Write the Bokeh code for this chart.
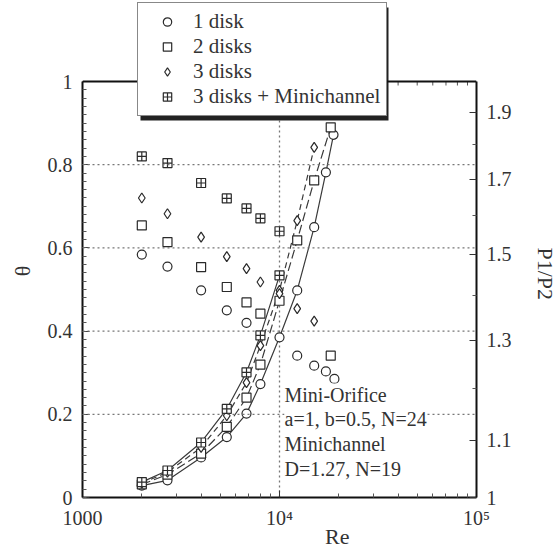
import math
from bokeh.plotting import figure
from bokeh.models import (Range1d, LogScale, LogAxis, FixedTicker, CustomJSTickFormatter,
                          Span, Label, Legend, LegendItem)
from bokeh.embed import file_html
from bokeh.resources import INLINE

SERIF = "Liberation Serif"
INK = "#2a2a2a"
TXT = "#333333"

# ---- data -------------------------------------------------------------
# flow coefficient theta (left axis) vs Reynolds number
re_theta_1 = [2000, 2700, 4000, 5400, 6800, 12300, 15000, 17200, 19000]
theta_1 = [0.584, 0.555, 0.498, 0.450, 0.420, 0.341, 0.317, 0.303, 0.285]

re_theta_2 = [2000, 2700, 4000, 5400, 6800, 8000, 18200]
theta_2 = [0.654, 0.614, 0.554, 0.506, 0.469, 0.442, 0.341]

re_theta_3 = [2000, 2700, 4000, 5400, 6800, 8000, 10000, 12300, 15000]
theta_3 = [0.720, 0.682, 0.626, 0.579, 0.550, 0.518, 0.490, 0.454, 0.424]

re_theta_m = [2000, 2700, 4000, 5400, 6800, 8000, 10000]
theta_m = [0.820, 0.804, 0.756, 0.719, 0.695, 0.671, 0.640]

# pressure ratio P1/P2 (right axis) vs Reynolds number
re_p_1 = [2000, 2700, 4000, 5400, 6800, 8000, 10000, 12300, 15000, 17200, 18800]
p_1 = [1.020, 1.029, 1.069, 1.106, 1.150, 1.208, 1.306, 1.412, 1.569, 1.719, 1.830]

re_p_2 = [2000, 2700, 4000, 5400, 6800, 8000, 10000, 12300, 15000, 18200]
p_2 = [1.022, 1.039, 1.076, 1.125, 1.181, 1.248, 1.388, 1.535, 1.696, 1.853]

re_p_3 = [2000, 2700, 4000, 5400, 6800, 8000, 10000, 12300, 15000]
p_3 = [1.024, 1.043, 1.087, 1.146, 1.211, 1.288, 1.412, 1.586, 1.792]

re_p_m = [2000, 2700, 4000, 5400, 6800, 8000, 10000]
p_m = [1.026, 1.046, 1.096, 1.159, 1.232, 1.310, 1.448]

labels = ["1 disk", "2 disks", "3 disks", "3 disks + Minichannel"]

# ---- axis ticks -------------------------------------------------------
x_ticks = [1000, 10000, 100000]
x_minor = [k * d for d in (1000, 10000) for k in range(2, 10)]
x_tick_labels = ["1000", "10\u2074", "10\u2075"]
theta_ticks = [0, 0.2, 0.4, 0.6, 0.8, 1.0]
theta_minor = [round(0.02 * i, 2) for i in range(51)]
p_ticks = [1.0, 1.1, 1.3, 1.5, 1.7, 1.9]
p_minor = [1.2, 1.4, 1.6, 1.8]
grid_theta = [0.2, 0.4, 0.6, 0.8]
grid_re = [10000]

THETA_MAX, P_MIN, P_MAX = 1.0, 1.0, 2.0

# ---- figure -----------------------------------------------------------
# The frame reaches the top of the canvas so the legend can sit above the
# plotting box; the box itself ends at theta = 1 (P1/P2 = 2).
FL, BOX_TOP, BOX_H, FW = 82, 81, 416, 394
FH = BOX_TOP + BOX_H
top_theta = THETA_MAX * FH / BOX_H
top_p = P_MIN * (P_MAX / P_MIN) ** (FH / BOX_H)

p = figure(frame_width=FW, frame_height=FH,
           x_axis_type="log", x_range=Range1d(1000, 100000),
           y_range=Range1d(0, top_theta),
           min_border_left=FL, min_border_right=558 - FL - FW,
           min_border_top=0, min_border_bottom=549 - FH,
           output_backend="svg", toolbar_location=None,
           background_fill_color="white", border_fill_color="white",
           outline_line_color=None)
p.extra_y_ranges = {"p": Range1d(P_MIN, top_p)}
p.extra_y_scales = {"p": LogScale()}
p.grid.visible = False

x_fmt = CustomJSTickFormatter(args=dict(vals=x_ticks, labs=x_tick_labels), code="""
    for (let i = 0; i < vals.length; i++) { if (Math.abs(tick - vals[i]) / vals[i] < 1e-6) return labs[i]; }
    return '';
""")
theta_fmt = CustomJSTickFormatter(code="""
    if (Math.abs(tick) < 1e-9) return '0';
    if (Math.abs(tick - 1) < 1e-9) return '1';
    return tick.toFixed(1);
""")
p_fmt = CustomJSTickFormatter(code="return (tick < 1.05) ? '1' : tick.toFixed(1);")

MAJ, MIN = 7, 4


def style(ax):
    ax.major_tick_in = MAJ
    ax.major_tick_out = 0
    ax.minor_tick_in = MIN
    ax.minor_tick_out = 0
    ax.axis_line_width = 2
    ax.axis_line_color = "#111111"
    ax.major_tick_line_color = "#333333"
    ax.minor_tick_line_color = "#555555"
    ax.major_label_text_font = SERIF
    ax.major_label_text_font_size = "20px"
    ax.major_label_text_color = TXT
    ax.major_label_standoff = 10
    ax.axis_label_text_font = SERIF
    ax.axis_label_text_font_style = "normal"
    ax.axis_label_text_color = TXT


NB = "\u00a0"

xa = p.xaxis[0]
xa.ticker = FixedTicker(ticks=x_ticks, minor_ticks=x_minor)
xa.formatter = x_fmt
style(xa)
xa.major_label_standoff = 9
xa.axis_label = NB * 21 + "Re"
xa.axis_label_text_font_size = "22px"
xa.axis_label_standoff = -8

ya = p.yaxis[0]
ya.ticker = FixedTicker(ticks=theta_ticks, minor_ticks=theta_minor)
ya.formatter = theta_fmt
ya.bounds = (0, THETA_MAX)
style(ya)
ya.axis_label = "\u03b8" + NB * 8
ya.axis_label_text_font_size = "22px"
ya.axis_label_standoff = 10

right = LogAxis(y_range_name="p", ticker=FixedTicker(ticks=p_ticks, minor_ticks=p_minor),
                formatter=p_fmt, bounds=(P_MIN, P_MAX))
style(right)
right.axis_label = NB * 9 + "P1/P2"
right.axis_label_text_font_size = "22px"
right.axis_label_standoff = 18
p.add_layout(right, "right")


# pixel position on the canvas -> data coordinates of the frame
def data_x(px):
    return 1000 * 10 ** (2 * (px - FL) / FW)


def data_y(py):
    return (FH - py) * top_theta / FH


# upper edge of the plotting box with inward ticks
p.add_layout(Span(location=THETA_MAX, dimension="width", line_color="#111111", line_width=2))
p.segment(x0=x_ticks, x1=x_ticks, y0=THETA_MAX, y1=THETA_MAX - MAJ * top_theta / FH,
          line_color="#333333", line_width=1)
p.segment(x0=x_minor, x1=x_minor, y0=THETA_MAX, y1=THETA_MAX - MIN * top_theta / FH,
          line_color="#555555", line_width=1)

# dotted reference lines
for g in grid_theta:
    p.add_layout(Span(location=g, dimension="width", line_color="#777777",
                      line_dash="2 3", line_width=1.3))
p.segment(x0=grid_re, x1=grid_re, y0=0, y1=THETA_MAX, line_color="#777777",
          line_dash="2 3", line_width=1.3)

# drop shadow behind the legend box (lower and right edges)
p.quad(left=data_x(140), right=data_x(388), top=data_y(7), bottom=data_y(120),
       fill_color="#222222", line_alpha=0)

# ---- curves and markers ----------------------------------------------
series = [
    (re_theta_1, theta_1, re_p_1, p_1, "circle", 9, "solid"),
    (re_theta_2, theta_2, re_p_2, p_2, "square", 9, "9 4"),
    (re_theta_3, theta_3, re_p_3, p_3, "diamond", 10, "6 4"),
    (re_theta_m, theta_m, re_p_m, p_m, "square_cross", 9, "solid"),
]

legend_refs = []
for (rt, th, rp, pp, mk, sz, dash) in series:
    p.line(rp, pp, y_range_name="p", line_color="#3a3a3a", line_width=1.2, line_dash=dash)
for (rt, th, rp, pp, mk, sz, dash) in series:
    p.scatter(rp, pp, y_range_name="p", marker=mk, size=sz, fill_color="white",
              line_color=INK, line_width=1.2)
    r = p.scatter(rt, th, marker=mk, size=sz, fill_color="white",
                  line_color=INK, line_width=1.2)
    legend_refs.append(r)

# ---- texts ------------------------------------------------------------
def sx(x):
    return x - FL


def sy(y):
    return FH - y


p.add_layout(Label(x=sx(284), y=sy(383), x_units="screen", y_units="screen",
                   text="Mini-Orifice\na=1, b=0.5, N=24\nMinichannel\nD=1.27, N=19",
                   text_font=SERIF, text_font_size="20px", text_color=TXT,
                   text_baseline="top", text_line_height=1.13,
                   background_fill_color="white"))

legend = Legend(items=[LegendItem(label=l, renderers=[r]) for l, r in zip(labels, legend_refs)],
                location=(sx(137), sy(116)),
                label_text_font=SERIF, label_text_font_size="21px", label_text_color=TXT,
                glyph_width=46, glyph_height=21, label_height=21, label_standoff=3,
                spacing=0, padding=6, margin=0,
                border_line_color="#111111", border_line_width=1.5,
                background_fill_color="white", background_fill_alpha=1)
p.add_layout(legend)

open("out.html", "w").write(file_html(p, INLINE))
